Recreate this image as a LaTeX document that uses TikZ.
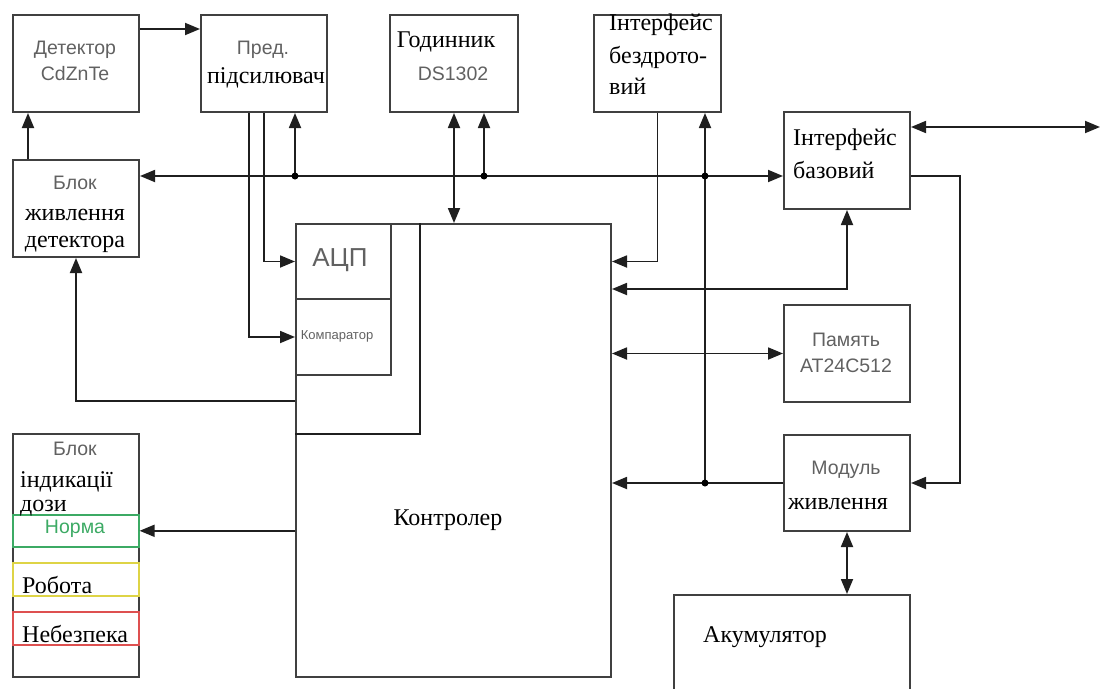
\documentclass[tikz,border=0pt]{standalone}
\usepackage{fontspec}
\setmainfont{Liberation Serif}
\setsansfont{Liberation Sans}
\usetikzlibrary{arrows.meta}
\definecolor{normgreen}{RGB}{60,170,100}
\definecolor{workyellow}{RGB}{222,212,70}
\definecolor{dangerred}{RGB}{222,80,80}

\begin{document}
\begin{tikzpicture}[x=1pt,y=-1pt,
	box/.style={draw=black!75,line width=2pt,minimum width=126pt,minimum height=97pt,anchor=north west,inner sep=0pt},
	lamp/.style={box,line width=1.6pt,minimum height=33pt},
	gtxt/.style={font=\sffamily\fontsize{19.5}{22}\selectfont,text=black!62,inner sep=0pt},
	stxt/.style={font=\fontsize{24}{28}\selectfont,text=black,inner sep=0pt},
	link/.style={draw=black!88,line width=1.8pt},
	arr/.style={link,-{Triangle[length=15pt,width=12pt]}},
	darr/.style={link,{Triangle[length=15pt,width=12pt]}-{Triangle[length=15pt,width=12pt]}},
	dot/.style={circle,fill=black,inner sep=0pt,minimum size=7pt}]
	\useasboundingbox (0,0) rectangle (1100,688);
	\clip (0,0) rectangle (1100,688);
	% blocks
	\node[box] (det) at (12,14) {};
	\node[box] (pred) at (200,14) {};
	\node[box,minimum width=128pt] (clock) at (389,14) {};
	\node[box,minimum width=127pt] (wless) at (593,14) {};
	\node[box] (base) at (783,111) {};
	\node[box] (pwrdet) at (12,159) {};
	\node[box,minimum width=315pt,minimum height=453pt] (ctrl) at (295,223) {};
	\node[box,minimum width=95pt,minimum height=75pt] (adc) at (295,223) {};
	\node[box,minimum width=95pt,minimum height=76pt] (comp) at (295,298) {};
	\node[box] (mem) at (783,304) {};
	\node[box,minimum height=96pt] (pwrmod) at (783,434) {};
	\node[box,minimum width=236pt,minimum height=110pt] (acc) at (673,594) {};
	\node[box,minimum height=243pt] (ind) at (12,433) {};
	\node[lamp,draw=normgreen,minimum height=32pt] (norma) at (12,514) {};
	\node[lamp,draw=workyellow] (robota) at (12,562) {};
	\node[lamp,draw=dangerred] (danger) at (12,611) {};
	\coordinate (inner) at (420,434);
	\draw[link,line width=2pt] (ctrl.north -| inner) -- (inner) -- (ctrl.west |- inner);
	% texts
	\node[gtxt] (detA) at (75,50) {Детектор};
	\node[gtxt] (detB) at (75,74) {CdZnTe};
	\node[gtxt] (predA) at (263,50) {Пред.};
	\node[stxt] (predB) at (266,78) {підсилювач};
	\node[stxt] (clockA) at (446,42) {Годинник};
	\node[gtxt] (clockB) at (453,74) {DS1302};
	\node[stxt,anchor=west] (wlA) at (609,25) {Інтерфейс};
	\node[stxt,anchor=west] (wlB) at (609,57) {бездрото-};
	\node[stxt,anchor=west] (wlC) at (609,86) {вий};
	\node[stxt,anchor=west] (baseA) at (793,140) {Інтерфейс};
	\node[stxt,anchor=west] (baseB) at (793,170) {базовий};
	\node[gtxt] (pdA) at (75,183) {Блок};
	\node[stxt] (pdB) at (75,215) {живлення};
	\node[stxt] (pdC) at (75,244) {детектора};
	\node[gtxt,font=\sffamily\fontsize{26}{30}\selectfont] (adcT) at (340,260) {АЦП};
	\node[gtxt,font=\sffamily\fontsize{13}{15}\selectfont] (compT) at (337,336) {Компаратор};
	\node[stxt] (ctrlT) at (448,520) {Контролер};
	\node[gtxt] (memA) at (846,340) {Память};
	\node[gtxt] (memB) at (846,366) {AT24C512};
	\node[gtxt] (pmA) at (846,470) {Модуль};
	\node[stxt] (pmB) at (838,504) {живлення};
	\node[stxt] (accT) at (765,637) {Акумулятор};
	\node[gtxt] (indA) at (75,449) {Блок};
	\node[stxt,anchor=west] (indB) at (20,482) {індикації};
	\node[stxt,anchor=west] (indC) at (20,508) {дози};
	\node[gtxt,text=normgreen] (normT) at (75,529) {Норма};
	\node[stxt,anchor=west] (robT) at (22,585) {Робота};
	\node[stxt,anchor=west] (danT) at (22,634) {Небезпека};
	% bus and links
	\coordinate (b1) at (295,176);
	\coordinate (b2) at (484,176);
	\coordinate (b3) at (705,176);
	\coordinate (fb) at (295,401);
	\coordinate (bl) at (846,289);
	\coordinate (ext) at (1100,127);
	\draw[arr] ([yshift=-15pt]det.north east) -- ([yshift=-15pt]pred.north west);
	\draw[arr] ([xshift=16pt]pwrdet.north west) -- ([xshift=16pt]det.south west);
	\draw[darr] (pwrdet.east |- b1) -- (base.west |- b1);
	\draw[arr] (b1) -- (pred.south -| b1);
	\draw[arr] (b2) -- (clock.south -| b2);
	\draw[arr] (pwrmod.west -| b3) -- (wless.south -| b3);
	\draw[darr] (clock.south) -- (ctrl.north -| clock.south);
	\draw[arr] (pred.south) |- (adc.west);
	\draw[arr] ([xshift=-15pt]pred.south) |- (comp.west);
	\draw[arr] (fb) -| (pwrdet.south);
	\draw[arr] (ctrl.west |- norma.east) -- (norma.east);
	\draw[arr] (wless.south) |- (ctrl.east |- adc.west);
	\draw[darr] (base.south) |- (ctrl.east |- bl);
	\draw[darr] (ctrl.east |- mem.west) -- (mem.west);
	\draw[arr] (pwrmod.west) -- (ctrl.east |- pwrmod.west);
	\draw[arr] (base.east |- b1) -- ++(49,0) |- (pwrmod.east);
	\draw[darr] ([yshift=-16pt]base.north east) -- (ext);
	\draw[darr] (pwrmod.south) -- (acc.north -| pwrmod.south);
	\node[dot] (d1) at (b1) {};
	\node[dot] (d2) at (b2) {};
	\node[dot] (d3) at (b3) {};
	\node[dot] (d4) at (pwrmod.west -| b3) {};
\end{tikzpicture}
\end{document}
